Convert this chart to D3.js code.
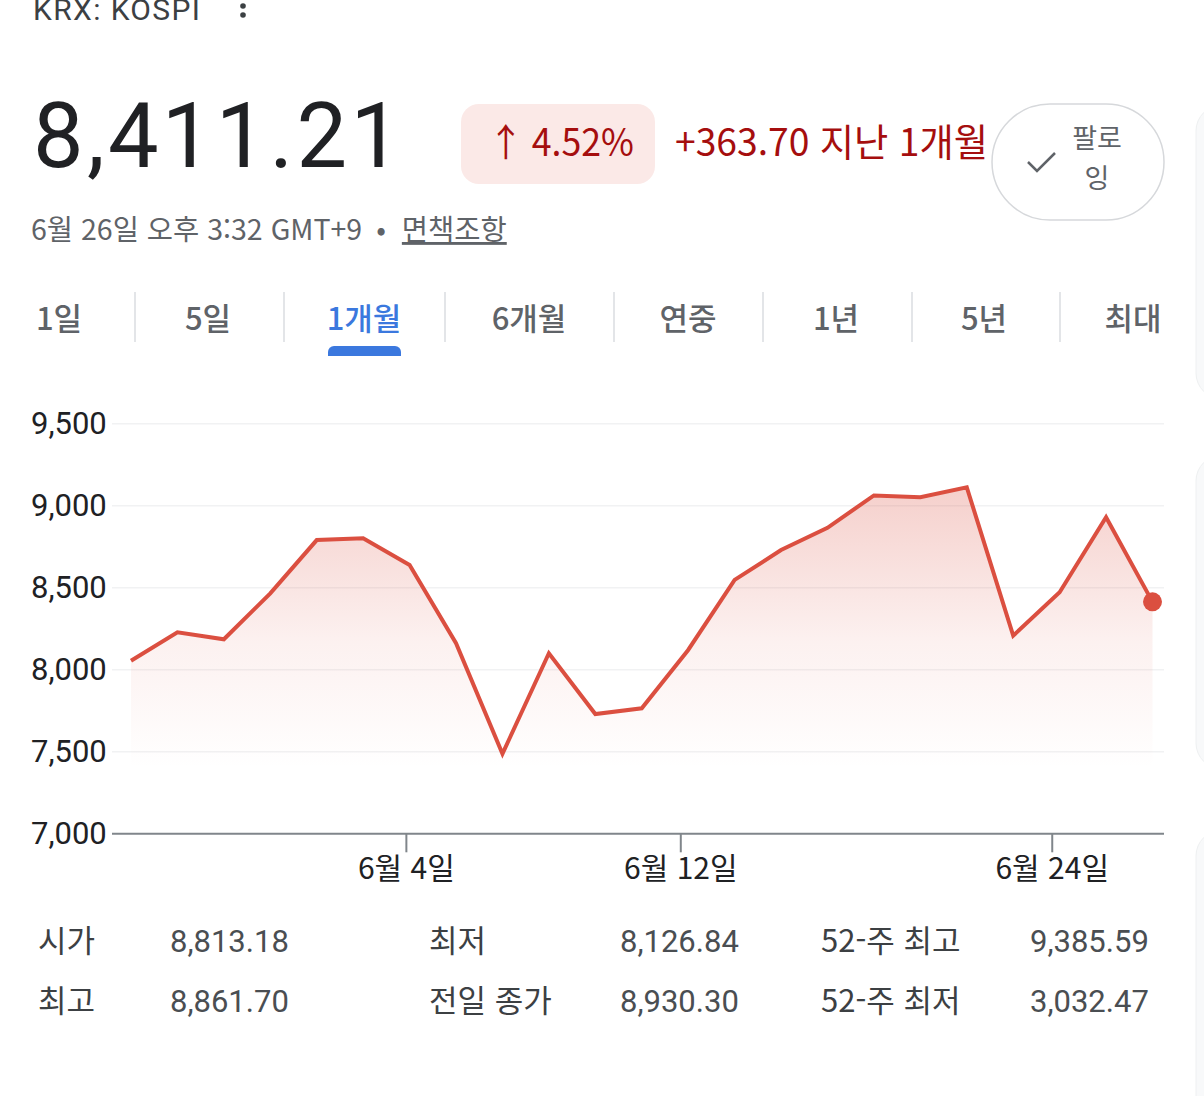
<!DOCTYPE html>
<html lang="ko">
<head>
<meta charset="utf-8">
<title>KOSPI 1개월</title>
<script src="https://cdn.jsdelivr.net/npm/d3@7"></script>
<style>
    html, body { margin: 0; padding: 0; background: #fff; }
    svg { display: block; }
    .num { font-family: Roboto, "Noto Sans", sans-serif; }
    .kr { font-family: "Noto Sans CJK KR", "Noto Sans", sans-serif; }
</style>
</head>
<body>
<svg id="page"></svg>
<script>
"use strict";

// Daily closes for the last month (trading days)
const closes = [8052, 8226, 8183, 8463, 8788, 8799, 8636, 8159, 7485, 8098, 7727, 7762,
    8118, 8545, 8727, 8863, 9060, 9049, 9110, 8205, 8470, 8927, 8411.21];

// Y-axis ticks
const yTicks = [7000, 7500, 8000, 8500, 9000, 9500];

// X-axis date ticks (position in trading-day index, label)
const xTickPositions = [5.92, 11.83, 19.83];
const xTickLabels = ["6월 4일", "6월 12일", "6월 24일"];

// Range tabs
const tabLabels = ["1일", "5일", "1개월", "6개월", "연중", "1년", "5년", "최대"];
const activeTab = "1개월";

// Key statistics below the chart
const statLabels = [["시가", "최저", "52-주 최고"], ["최고", "전일 종가", "52-주 최저"]];
const statValues = [["8,813.18", "8,126.84", "9,385.59"], ["8,861.70", "8,930.30", "3,032.47"]];

const width = 1204, height = 1096;
const lineColor = "#db4f40";

const svg = d3.select("#page")
    .attr("width", width)
    .attr("height", height);

// right edge cards (partly visible)
[[105, 399], [455, 769], [830, 1130]].forEach(([top, bottom]) => {
    svg.append("rect")
        .attr("x", 1196).attr("y", top)
        .attr("width", 60).attr("height", bottom - top)
        .attr("rx", 26)
        .attr("fill", "#f8f9fa")
        .attr("stroke", "#eef0f1");
});

// ---- header ----
svg.append("text")
    .attr("class", "num")
    .attr("x", 33).attr("y", 20)
    .attr("font-size", 30)
    .attr("fill", "#3c4043")
    .attr("textLength", 167)
    .attr("lengthAdjust", "spacing")
    .text("KRX: KOSPI");

svg.selectAll("circle.more")
    .data([-3, 6, 15])
    .join("circle")
    .attr("class", "more")
    .attr("cx", 243).attr("cy", (d) => d)
    .attr("r", 2.8)
    .attr("fill", "#3c4043");

svg.append("text")
    .attr("class", "num")
    .attr("x", 33).attr("y", 167)
    .attr("font-size", 90)
    .attr("fill", "#202124")
    .attr("textLength", 368)
    .attr("lengthAdjust", "spacing")
    .text("8,411.21");

svg.append("rect")
    .attr("x", 461).attr("y", 104)
    .attr("width", 194).attr("height", 80)
    .attr("rx", 18)
    .attr("fill", "#fbe9e7");

svg.append("text")
    .attr("class", "kr")
    .attr("x", 488).attr("y", 156)
    .attr("font-size", 38)
    .attr("fill", "#a50e0e")
    .attr("textLength", 146)
    .attr("lengthAdjust", "spacingAndGlyphs")
    .text("↑ 4.52%");

svg.append("text")
    .attr("class", "kr")
    .attr("x", 675).attr("y", 156)
    .attr("font-size", 38)
    .attr("fill", "#a50e0e")
    .attr("textLength", 313)
    .attr("lengthAdjust", "spacingAndGlyphs")
    .text("+363.70 지난 1개월");

// follow button
svg.append("rect")
    .attr("x", 992).attr("y", 104)
    .attr("width", 172).attr("height", 116)
    .attr("rx", 58)
    .attr("fill", "#fff")
    .attr("stroke", "#d6d8db")
    .attr("stroke-width", 1.5);

svg.append("path")
    .attr("d", d3.line()([[1028, 162], [1037, 171], [1055, 153]]))
    .attr("fill", "none")
    .attr("stroke", "#5f6368")
    .attr("stroke-width", 2.5);

svg.append("text")
    .attr("class", "kr")
    .attr("x", 1097).attr("y", 148)
    .attr("text-anchor", "middle")
    .attr("font-size", 27)
    .attr("fill", "#5f6368")
    .text("팔로");

svg.append("text")
    .attr("class", "kr")
    .attr("x", 1097).attr("y", 188)
    .attr("text-anchor", "middle")
    .attr("font-size", 27)
    .attr("fill", "#5f6368")
    .text("잉");

const dateLine = svg.append("text")
    .attr("class", "kr")
    .attr("x", 31).attr("y", 240)
    .attr("font-size", 28.5)
    .attr("fill", "#5f6368");
dateLine.append("tspan").text("6월 26일 오후 3:32 GMT+9");
dateLine.append("tspan").attr("dx", 14).text("•");
dateLine.append("tspan").attr("dx", 16)
    .attr("text-decoration", "underline")
    .text("면책조항");

// ---- range tabs ----
const tabCenters = [59, 208, 364, 529, 688, 836, 984, 1133];
const tabSeparators = [135, 284, 445, 614, 763, 912, 1060];

svg.selectAll("line.sep")
    .data(tabSeparators)
    .join("line")
    .attr("class", "sep")
    .attr("x1", (d) => d).attr("x2", (d) => d)
    .attr("y1", 292).attr("y2", 342)
    .attr("stroke", "#dadce0")
    .attr("stroke-width", 1.5);

svg.selectAll("text.tab")
    .data(tabLabels)
    .join("text")
    .attr("class", "tab kr")
    .attr("x", (d, i) => tabCenters[i])
    .attr("y", 330)
    .attr("text-anchor", "middle")
    .attr("font-size", 31)
    .attr("font-weight", 500)
    .attr("fill", (d) => d === activeTab ? "#3b78de" : "#5f6368")
    .text((d) => d);

svg.append("path")
    .attr("d", "M328,356 V352 a6,6 0 0 1 6,-6 H395 a6,6 0 0 1 6,6 V356 Z")
    .attr("fill", "#3b78de");

// ---- chart ----
const x = d3.scaleLinear().domain([0, closes.length - 1]).range([131, 1152.5]);
const y = d3.scaleLinear().domain([7000, 9500]).range([833.3, 423.3]);

const defs = svg.append("defs");
const grad = defs.append("linearGradient")
    .attr("id", "areaFill")
    .attr("gradientUnits", "userSpaceOnUse")
    .attr("x1", 0).attr("x2", 0)
    .attr("y1", y(d3.max(closes))).attr("y2", y(7400));
grad.append("stop").attr("offset", 0).attr("stop-color", lineColor).attr("stop-opacity", 0.27);
grad.append("stop").attr("offset", 0.55).attr("stop-color", lineColor).attr("stop-opacity", 0.08);
grad.append("stop").attr("offset", 1).attr("stop-color", lineColor).attr("stop-opacity", 0);

// grid lines + y labels
const yAxis = svg.append("g")
    .attr("transform", "translate(112,0)")
    .call(d3.axisLeft(y).tickValues(yTicks).tickSize(-1052).tickFormat(d3.format(",")));
yAxis.select(".domain").remove();
yAxis.selectAll(".tick line")
    .attr("stroke", (d) => d === 7000 ? "#80868b" : "#f1f2f3")
    .attr("stroke-width", (d) => d === 7000 ? 2 : 1.5);
yAxis.selectAll(".tick text")
    .attr("class", "num")
    .attr("text-anchor", "start")
    .attr("x", -81)
    .attr("font-size", 31)
    .attr("fill", "#202124");

svg.append("path")
    .datum(closes)
    .attr("fill", "url(#areaFill)")
    .attr("d", d3.area()
        .x((d, i) => x(i))
        .y0(y(7000))
        .y1((d) => y(d)));

svg.append("path")
    .datum(closes)
    .attr("fill", "none")
    .attr("stroke", lineColor)
    .attr("stroke-width", 4)
    .attr("stroke-linejoin", "miter")
    .attr("d", d3.line()
        .x((d, i) => x(i))
        .y((d) => y(d)));

svg.append("circle")
    .attr("cx", x(closes.length - 1))
    .attr("cy", y(closes[closes.length - 1]))
    .attr("r", 9.5)
    .attr("fill", lineColor);

// date axis
const xAxis = svg.append("g")
    .attr("transform", `translate(0,${y(7000)})`)
    .call(d3.axisBottom(x)
        .tickValues(xTickPositions)
        .tickSize(19)
        .tickPadding(5)
        .tickFormat((d, i) => xTickLabels[i]));
xAxis.select(".domain").remove();
xAxis.selectAll(".tick line")
    .attr("stroke", "#80868b")
    .attr("stroke-width", 2);
xAxis.selectAll(".tick text")
    .attr("class", "kr")
    .attr("font-size", 30)
    .attr("fill", "#202124");

// ---- key stats ----
const statLabelX = [38, 429, 821];
const statValueX = [170, 620, 1030];
const statRowY = [952, 1012];

statLabels.forEach((row, r) => {
    row.forEach((label, c) => {
        svg.append("text")
            .attr("class", "kr")
            .attr("x", statLabelX[c]).attr("y", statRowY[r])
            .attr("font-size", 31)
            .attr("fill", "#3c4043")
            .text(label);
        svg.append("text")
            .attr("class", "num")
            .attr("x", statValueX[c]).attr("y", statRowY[r])
            .attr("font-size", 31)
            .attr("fill", "#4a4e52")
            .text(statValues[r][c]);
    });
});
</script>
</body>
</html>
